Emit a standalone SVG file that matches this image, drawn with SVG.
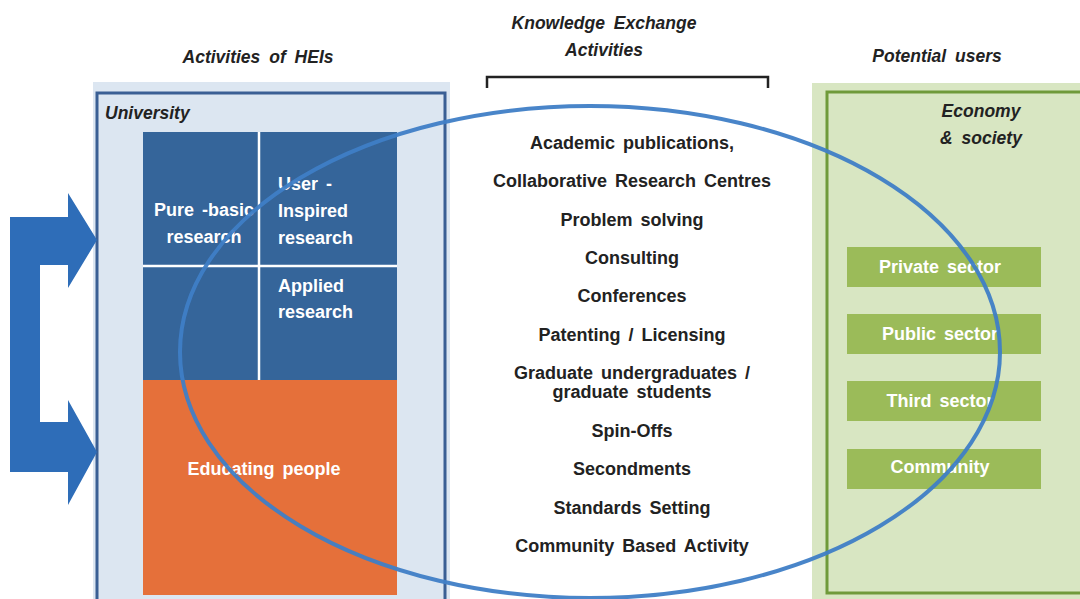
<svg xmlns="http://www.w3.org/2000/svg" width="1080" height="599" viewBox="0 0 1080 599">
<style>
.hdr{font-family:"Liberation Sans",Arial,sans-serif;font-weight:bold;font-style:italic;font-size:17.5px;word-spacing:4px;fill:#222;text-anchor:middle}
.lbl{font-family:"Liberation Sans",Arial,sans-serif;font-weight:bold;font-size:18px;word-spacing:3px;fill:#222;text-anchor:middle}
.wt{font-family:"Liberation Sans",Arial,sans-serif;font-weight:bold;font-size:18px;word-spacing:3px;fill:#fff}
.gbox{fill:#9BBB59}
</style>
<rect width="1080" height="599" fill="#fff"/>
<!-- headers -->
<text class="hdr" x="258" y="63">Activities of HEIs</text>
<text class="hdr" x="604" y="29">Knowledge Exchange</text>
<text class="hdr" x="604" y="56">Activities</text>
<text class="hdr" x="937" y="62">Potential users</text>
<path d="M487,88 V77 H768 V88" fill="none" stroke="#222" stroke-width="2.5"/>

<!-- University -->
<g id="university">
<rect x="93" y="82" width="357" height="517" fill="#DCE6F1"/>
<rect x="97" y="93" width="348" height="510" fill="none" stroke="#3A5F94" stroke-width="3"/>
<text x="105" y="119" font-family="Liberation Sans,Arial,sans-serif" font-weight="bold" font-style="italic" font-size="17.5" fill="#222">University</text>
</g>
<g id="research">
<rect x="143" y="132" width="254" height="248" fill="#35659A"/>
<line x1="259" y1="132" x2="259" y2="380" stroke="#fff" stroke-width="2.5"/>
<line x1="143" y1="266" x2="397" y2="266" stroke="#fff" stroke-width="2.5"/>
<text class="wt" x="204" y="216" text-anchor="middle">Pure -basic</text>
<text class="wt" x="204" y="243" text-anchor="middle">research</text>
<text class="wt" x="278" y="190">User -</text>
<text class="wt" x="278" y="217">Inspired</text>
<text class="wt" x="278" y="244">research</text>
<text class="wt" x="278" y="292">Applied</text>
<text class="wt" x="278" y="318">research</text>
</g>
<g id="educating">
<rect x="143" y="380" width="254" height="215" fill="#E5703A"/>
<text class="wt" x="264" y="475" text-anchor="middle">Educating people</text>
</g>

<!-- Economy & society -->
<g id="economy">
<rect x="812" y="83" width="268" height="516" fill="#D8E6C2"/>
<path d="M1082,92 H827 V593 H1082" fill="none" stroke="#6F9A3A" stroke-width="3"/>
<text class="hdr" x="981" y="117">Economy</text>
<text class="hdr" x="981" y="144">&amp; society</text>
</g>
<g id="private"><rect class="gbox" x="847" y="247" width="194" height="40"/><text class="wt" x="940" y="273" text-anchor="middle">Private sector</text></g>
<g id="public"><rect class="gbox" x="847" y="314" width="194" height="40"/><text class="wt" x="940" y="340" text-anchor="middle">Public sector</text></g>
<g id="third"><rect class="gbox" x="847" y="381" width="194" height="40"/><text class="wt" x="940" y="407" text-anchor="middle">Third sector</text></g>
<g id="community"><rect class="gbox" x="847" y="449" width="194" height="40"/><text class="wt" x="940" y="473" text-anchor="middle">Community</text></g>

<!-- Knowledge exchange list -->
<g id="ke-list">
<text class="lbl" x="632" y="149">Academic publications,</text>
<text class="lbl" x="632" y="187">Collaborative Research Centres</text>
<text class="lbl" x="632" y="226">Problem solving</text>
<text class="lbl" x="632" y="264">Consulting</text>
<text class="lbl" x="632" y="302">Conferences</text>
<text class="lbl" x="632" y="341">Patenting / Licensing</text>
<text class="lbl" x="632" y="379">Graduate undergraduates /</text>
<text class="lbl" x="632" y="398">graduate students</text>
<text class="lbl" x="632" y="437">Spin-Offs</text>
<text class="lbl" x="632" y="475">Secondments</text>
<text class="lbl" x="632" y="514">Standards Setting</text>
<text class="lbl" x="632" y="552">Community Based Activity</text>
</g>

<!-- connectors -->
<g id="connectors">
<path d="M10,217 H68 V193 L97,240 L68,288 V265 H40 V422 H68 V400 L97,452 L68,505 V472 H10 Z" fill="#2E6DB8"/>
<ellipse cx="590" cy="352" rx="410" ry="246" fill="none" stroke="#3F7EC6" stroke-width="4" stroke-opacity="0.95"/>
</g>
</svg>
